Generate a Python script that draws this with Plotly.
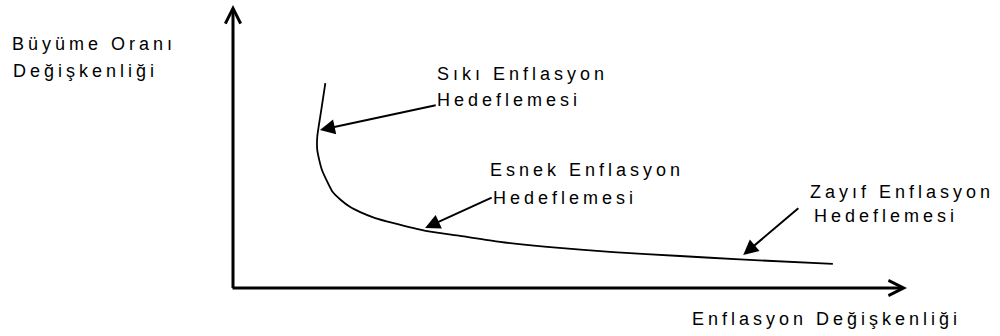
import plotly.graph_objects as go

# ---- data (schematic units; both axes run 0..10) ----
curve_x = [1.37, 1.31, 1.25, 1.25, 1.28, 1.32, 1.40, 1.48, 1.60, 1.74, 1.88, 2.11, 2.37,
           2.88, 3.37, 3.96, 4.66, 5.64, 6.63, 7.52, 8.90]
curve_y = [7.24, 6.29, 5.34, 4.88, 4.52, 4.17, 3.75, 3.39, 3.11, 2.86, 2.69, 2.47, 2.30,
           2.01, 1.84, 1.63, 1.45, 1.27, 1.13, 1.01, 0.85]

y_title_lines = ["Büyüme Oranı", "Değişkenliği"]
x_title = "Enflasyon Değişkenliği"
regime_lines = [
    ["Sıkı Enflasyon", "Hedeflemesi"],
    ["Esnek Enflasyon", "Hedeflemesi"],
    ["Zayıf Enflasyon", "Hedeflemesi"],
]
# pointer arrows: tip on the curve, tail at the label
arrow_tip_x = [1.29, 2.85, 7.57]
arrow_tip_y = [5.58, 2.12, 1.17]
arrow_tail_x = [3.03, 3.86, 8.41]
arrow_tail_y = [6.47, 3.22, 2.86]

W, H = 1000, 336
FONT = dict(family="Liberation Sans, Arial, sans-serif", size=18, color="black")


def px(x):
    return x / W


def py(y):
    return 1 - y / H


fig = go.Figure()
fig.add_trace(go.Scatter(
    x=curve_x, y=curve_y, mode="lines",
    line=dict(color="black", width=1.8, shape="spline", smoothing=0.6),
    hoverinfo="skip", showlegend=False,
))

ann = []
# axes with open arrowheads
ann.append(dict(x=10, y=0, ax=-0.03, ay=0, xref="x", yref="y", axref="x", ayref="y",
                text="", showarrow=True, arrowhead=5, arrowsize=1.0, arrowwidth=3, arrowcolor="black"))
ann.append(dict(x=0, y=10, ax=0, ay=-0.05, xref="x", yref="y", axref="x", ayref="y",
                text="", showarrow=True, arrowhead=5, arrowsize=1.0, arrowwidth=3, arrowcolor="black"))
# pointer arrows
for tx, ty, sx, sy in zip(arrow_tip_x, arrow_tip_y, arrow_tail_x, arrow_tail_y):
    ann.append(dict(x=tx, y=ty, ax=sx, ay=sy, xref="x", yref="y", axref="x", ayref="y",
                    text="", showarrow=True, arrowhead=2, arrowsize=1.5, arrowwidth=2, arrowcolor="black"))

# text labels (left edge, vertical centre in pixels)
text_pos = [
    (y_title_lines[0], 10, 44), (y_title_lines[1], 11, 71),
    (regime_lines[0][0], 435, 74), (regime_lines[0][1], 435, 100),
    (regime_lines[1][0], 488, 170), (regime_lines[1][1], 491, 198),
    (regime_lines[2][0], 808, 192), (regime_lines[2][1], 812, 216),
    (x_title, 690, 319),
]
for t, x, y in text_pos:
    ann.append(dict(x=px(x), y=py(y), xref="paper", yref="paper", text=t, showarrow=False,
                    xanchor="left", yanchor="middle", align="left", font=FONT))

fig.update_layout(
    width=W, height=H, autosize=False,
    margin=dict(l=0, r=0, t=0, b=0),
    paper_bgcolor="white", plot_bgcolor="white",
    xaxis=dict(range=[-233 / 67.4, 767 / 67.4], visible=False, fixedrange=True),
    yaxis=dict(range=[-48 / 28.3, 288 / 28.3], visible=False, fixedrange=True),
    annotations=ann,
    showlegend=False,
)

post = ("document.body.style.margin='0';"
        "var s=document.createElement('style');"
        "s.textContent='.annotation-text{letter-spacing:4px}';"
        "document.head.appendChild(s);")
fig.write_html("out.html", post_script=post, config={"displayModeBar": False})
